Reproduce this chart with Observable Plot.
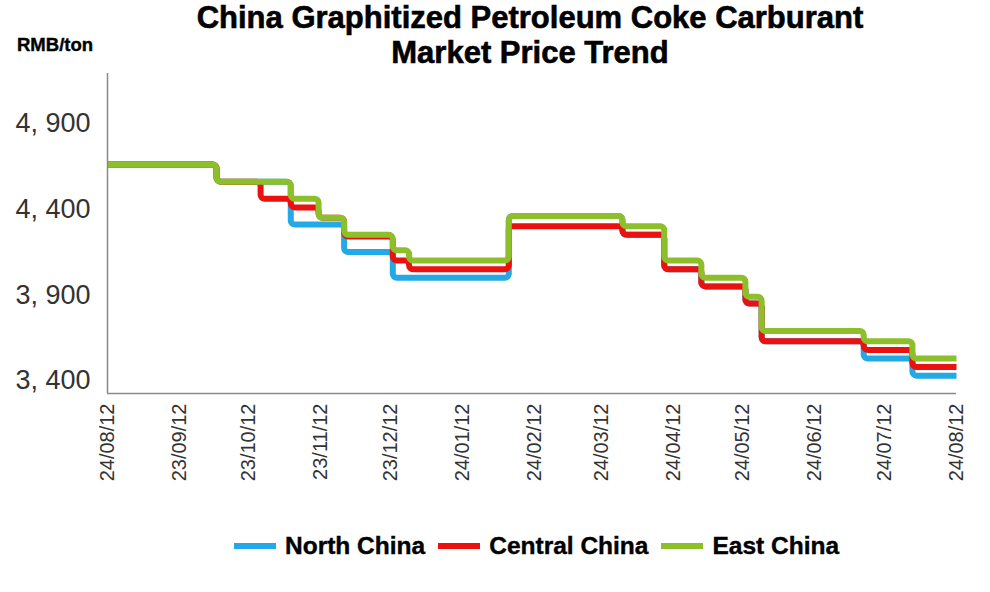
<!DOCTYPE html>
<html><head><meta charset="utf-8">
<script src="https://cdn.jsdelivr.net/npm/d3@7"></script>
<script src="https://cdn.jsdelivr.net/npm/@observablehq/plot@0.6"></script>
<style>
body{margin:0;width:990px;height:592px;overflow:hidden;background:#fff;font-family:"Liberation Sans",Arial,sans-serif;position:relative}
#title{position:absolute;left:70px;width:920px;top:0;text-align:center;font-weight:bold;font-size:31px;line-height:35px;color:#000;-webkit-text-stroke:0.6px #000}
#unit{position:absolute;left:17px;top:34px;font-weight:bold;font-size:18.5px;line-height:22px;color:#000;-webkit-text-stroke:0.4px #000}
#chart{position:absolute;left:0;top:70px}
#legend{position:absolute;left:234px;top:533px;height:26px;display:flex;align-items:center}
.sw{width:42px;height:6px;margin-right:9px}
.lt{font-weight:bold;font-size:24.5px;line-height:26px;margin-right:13px;color:#000;-webkit-text-stroke:0.4px #000}
</style></head><body>
<div id="title">China Graphitized Petroleum Coke Carburant<br>Market Price Trend</div>
<div id="unit">RMB/ton</div>
<div id="chart"></div>
<div id="legend"></div>
<script>
const seriesNames = ["North China", "Central China", "East China"];
const seriesColors = ["#22a9e6", "#ec1111", "#8dbf2a"];

const northDates = ["2023-08-12","2023-09-28","2023-10-30","2023-11-22","2023-12-13","2024-02-01","2024-03-21","2024-04-08","2024-04-24","2024-05-13","2024-05-20","2024-07-03","2024-07-24","2024-08-12"];
const northValues = [4660,4560,4310,4150,4000,4360,4250,4050,3950,3850,3630,3530,3430,3430];

const centralDates = ["2023-08-12","2023-09-28","2023-10-17","2023-10-30","2023-11-11","2023-11-22","2023-12-13","2023-12-20","2024-02-01","2024-03-21","2024-04-08","2024-04-24","2024-05-13","2024-05-20","2024-07-03","2024-07-24","2024-08-12"];
const centralValues = [4660,4560,4460,4410,4350,4240,4100,4050,4300,4250,4050,3950,3850,3630,3580,3480,3480];

const eastDates = ["2023-08-12","2023-09-28","2023-10-30","2023-11-11","2023-11-22","2023-12-13","2023-12-20","2024-02-01","2024-03-21","2024-04-08","2024-04-24","2024-05-13","2024-05-20","2024-07-03","2024-07-24","2024-08-12"];
const eastValues = [4660,4560,4460,4350,4250,4160,4100,4360,4300,4100,4000,3890,3690,3630,3530,3530];

const xTickDates = ["2023-08-12","2023-09-12","2023-10-12","2023-11-12","2023-12-12","2024-01-12","2024-02-12","2024-03-12","2024-04-12","2024-05-12","2024-06-12","2024-07-12","2024-08-12"];
const xTickLabels = ["24/08/12","23/09/12","23/10/12","23/11/12","23/12/12","24/01/12","24/02/12","24/03/12","24/04/12","24/05/12","24/06/12","24/07/12","24/08/12"];
const yTicks = [3400, 3900, 4400, 4900];
const yDomain = [3326, 5190];

const toDate = s => new Date(s + "T00:00:00Z");
const data = [];
[[seriesNames[0], northDates, northValues],
 [seriesNames[1], centralDates, centralValues],
 [seriesNames[2], eastDates, eastValues]].forEach(([name, ds, vs]) => {
  ds.forEach((d, i) => data.push({series: name, date: toDate(d), value: vs[i]}));
});

const tickDates = xTickDates.map(toDate);
const labelMap = new Map(tickDates.map((d, i) => [+d, xTickLabels[i]]));
const xDomain = [tickDates[0], tickDates[tickDates.length - 1]];

// step-after curve with softly rounded corners
function roundedStep(context) {
  let pts = [];
  const R = 4;
  return {
    areaStart() {}, areaEnd() {},
    lineStart() { pts = []; },
    point(x, y) { pts.push([+x, +y]); },
    lineEnd() {
      if (!pts.length) return;
      const v = [pts[0]];
      for (let i = 1; i < pts.length; i++) {
        const a = pts[i - 1], b = pts[i];
        v.push([b[0], a[1]]);
        v.push([b[0], b[1]]);
      }
      const q = [];
      for (const p of v) {
        const l = q[q.length - 1];
        if (!l || Math.abs(l[0] - p[0]) > 1e-6 || Math.abs(l[1] - p[1]) > 1e-6) q.push(p);
      }
      context.moveTo(q[0][0], q[0][1]);
      for (let i = 1; i < q.length - 1; i++) {
        const p0 = q[i - 1], p1 = q[i], p2 = q[i + 1];
        const d1 = Math.hypot(p1[0] - p0[0], p1[1] - p0[1]);
        const d2 = Math.hypot(p2[0] - p1[0], p2[1] - p1[1]);
        const r = Math.min(R, d1 / 2, d2 / 2);
        context.arcTo(p1[0], p1[1], p2[0], p2[1], r);
      }
      const last = q[q.length - 1];
      context.lineTo(last[0], last[1]);
    }
  };
}

const chart = Plot.plot({
  width: 990,
  height: 460,
  marginLeft: 107,
  marginRight: 34,
  marginTop: 3,
  marginBottom: 137,
  x: {type: "utc", domain: xDomain},
  y: {domain: yDomain},
  color: {domain: seriesNames, range: seriesColors},
  style: {fontFamily: "Liberation Sans, Arial, sans-serif", background: "#fff", overflow: "visible"},
  marks: [
    Plot.axisY({ticks: yTicks, tickSize: 0, tickPadding: 17, fontSize: 27, color: "#333",
      tickFormat: d => d3.format(",")(d).replace(",", ", "), label: null}),
    Plot.axisX({ticks: tickDates, tickSize: 0, tickPadding: 10, tickRotate: -90, fontSize: 20, color: "#333",
      tickFormat: d => labelMap.get(+d), label: null}),
    Plot.ruleX([xDomain[0]], {y1: yDomain[0], y2: yDomain[1], stroke: "#8a8a8a", strokeWidth: 1.5}),
    Plot.ruleY([yDomain[0]], {x1: xDomain[0], x2: xDomain[1], stroke: "#8a8a8a", strokeWidth: 1.5}),
    Plot.lineY(data, {x: "date", y: "value", z: "series", stroke: "series", curve: roundedStep,
      strokeWidth: 6, strokeLinejoin: "round", strokeLinecap: "butt"})
  ]
});
document.getElementById("chart").appendChild(chart);

const legend = document.getElementById("legend");
seriesNames.forEach((n, i) => {
  const sw = document.createElement("div");
  sw.className = "sw";
  sw.style.background = seriesColors[i];
  const t = document.createElement("div");
  t.className = "lt";
  t.textContent = n;
  legend.appendChild(sw);
  legend.appendChild(t);
});
</script>
</body></html>
